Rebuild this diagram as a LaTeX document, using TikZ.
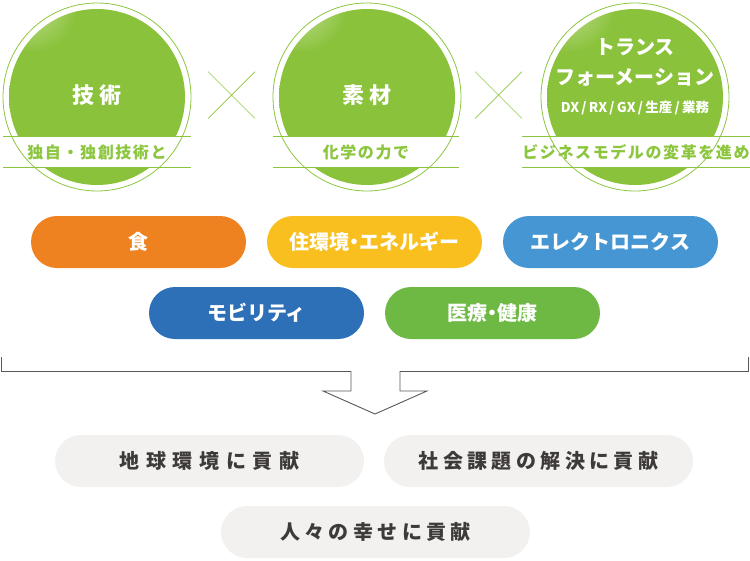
\documentclass[tikz,border=0pt]{standalone}
\usepackage{fontspec}
\usepackage{xcolor}
\usetikzlibrary{shapes.misc}
\newfontfamily\jp{Noto Sans CJK JP}
\definecolor{kaLeaf}{HTML}{8CC63F}
\definecolor{kaBase}{HTML}{8AC23B}
\definecolor{kaHigh}{HTML}{D2E7AE}
\definecolor{kaDeep}{HTML}{5A942B}
\definecolor{kaOrange}{HTML}{EF8220}
\definecolor{kaYellow}{HTML}{F8BF1E}
\definecolor{kaSky}{HTML}{4596D3}
\definecolor{kaBlue}{HTML}{2D70B8}
\definecolor{kaGreen}{HTML}{6EB944}
\definecolor{kaMist}{HTML}{F2F1EF}
\definecolor{kaInk}{HTML}{3E3A39}
\definecolor{kaLine}{HTML}{595757}
\pgfdeclareradialshading{kaBall}{\pgfpoint{-22bp}{30bp}}{%
  color(0bp)=(kaHigh); color(13bp)=(kaBase); color(64bp)=(kaBase); color(88bp)=(kaDeep)}
\newcommand{\jsize}[2]{\jp\fontsize{#1}{#1}\selectfont\addfontfeatures{LetterSpace=#2}}
\newcommand{\nakaguro}{{\addfontfeatures{RawFeature=+palt}・}}

\begin{document}
\begin{tikzpicture}[
  x=1pt, y=-1pt,
  ball/.style={circle, shading=kaBall, minimum size=176pt, inner sep=0pt},
  ring/.style={draw=kaLeaf, line width=0.8pt},
  btitle/.style={text=white, font=\jsize{22}{20}\bfseries, inner sep=0pt},
  bsub/.style={text=white, font=\jsize{20}{0}\bfseries, inner sep=0pt},
  bsmall/.style={text=white, font=\jsize{13.5}{0}\bfseries, inner sep=0pt},
  band/.style={fill=white, text=kaLeaf, font=\jsize{16}{10}\bfseries, minimum height=30pt, inner sep=0pt},
  bandline/.style={draw=kaLeaf, line width=0.8pt},
  times/.style={cross out, draw=kaLeaf, line width=0.7pt, minimum size=46pt, inner sep=0pt},
  field/.style={rounded corners=26pt, minimum width=215pt, minimum height=52pt, text=white,
                font=\jsize{20}{0}\bfseries, inner sep=0pt},
  goal/.style={rounded corners=26pt, fill=kaMist, minimum width=309pt, minimum height=52pt, text=kaInk,
               font=\jsize{20}{22}\bfseries, inner sep=0pt},
  flow/.style={draw=kaLine, line width=0.9pt, line join=miter},
]
\useasboundingbox (0,0) rectangle (750,560);

% ── Three spheres ────────────────────────────────────────────────────────────
\node[ball] (bTech) at ( 97,97) {};
\node[ball] (bMat)  at (367,97) {};
\node[ball] (bTrans) at (635,97) {};

\node[btitle] (tTech) at (97,95)  {技術};
\node[btitle] (tMat)  at (367,95) {素材};
\node[bsub]   (tTrans1) at (635,47)  {トランス};
\node[bsub]   (tTrans2) at (635,77)  {フォーメーション};
\node[bsmall] (tTrans3) at (635,108) {DX\,/\,RX\,/\,GX\,/\,生産\,/\,業務};

% ── Bands across the lower part of each sphere ──────────────────────────────
\node[band, minimum width=187pt] (kTech)  at ( 97,152) {独自・独創技術と};
\node[band, minimum width=185pt] (kMat)   at (366,152) {化学の力で};
\node[band, minimum width=225pt] (kTrans) at (636,152) {ビジネスモデルの変革を進め};

\foreach \b in {bTech,bMat,bTrans}{ \draw[ring] (\b.center) circle (94); }
\foreach \k in {kTech,kMat,kTrans}{
  \draw[bandline] (\k.north west) -- (\k.north east);
  \draw[bandline] (\k.south west) -- (\k.south east);
}

% ── Multiplication marks ─────────────────────────────────────────────────────
\node[times] (x1) at (231.5,95) {};
\node[times] (x2) at (498.5,95) {};

% ── Fields ───────────────────────────────────────────────────────────────────
\node[field, fill=kaOrange] (fFood)   at (138.5,242) {食};
\node[field, fill=kaYellow] (fLiving) at (374.5,242) {住環境\nakaguro エネルギー};
\node[field, fill=kaSky]    (fElec)   at (610.5,242) {エレクトロニクス};
\node[field, fill=kaBlue]   (fMob)    at (256.5,313) {モビリティ};
\node[field, fill=kaGreen]  (fMed)    at (492.5,313) {医療\nakaguro 健康};

% ── Bracket and arrow ────────────────────────────────────────────────────────
\draw[flow] (1.5,357) |- (351,371.5) -- (351,391) -- (323,391) -- (375,414)
  -- (427,391) -- (400,391) -- (400,371.5) -| (748.5,357);

% ── Contributions ────────────────────────────────────────────────────────────
\node[goal, font=\jsize{20}{33}\bfseries] (gEarth)  at (209.5,461) {地球環境に貢献};
\node[goal] (gSociety) at (538.5,461) {社会課題の解決に貢献};
\node[goal] (gPeople)  at (375.5,532) {人々の幸せに貢献};

\end{tikzpicture}
\end{document}
